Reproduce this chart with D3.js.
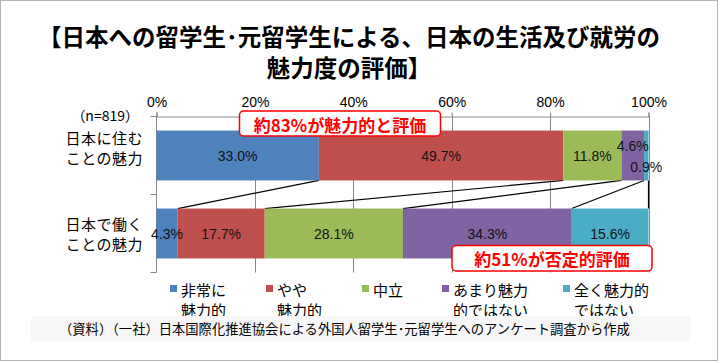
<!DOCTYPE html>
<html>
<head>
<meta charset="utf-8">
<script src="https://cdn.jsdelivr.net/npm/d3@7"></script>
<style>
  body { margin: 0; background: #fff; }
  svg text { font-family: "Noto Sans CJK JP", sans-serif; }
  .num { font-family: "Liberation Sans", Arial, sans-serif; }
</style>
</head>
<body>
<svg id="chart" width="720" height="363"></svg>
<script>
'use strict';

// categories (one bar each) and their two-line labels
const categories = ['live', 'work'];
const categoryLines = [['日本に住む', 'ことの魅力'], ['日本で働く', 'ことの魅力']];

// series, in stacking order
const seriesNames = ['非常に魅力的', 'やや魅力的', '中立', 'あまり魅力的ではない', '全く魅力的ではない'];
const legendLines = [['非常に', '魅力的'], ['やや', '魅力的'], ['中立'], ['あまり魅力', '的ではない'], ['全く魅力的', 'ではない']];
const seriesColors = ['#4f81bd', '#c0504d', '#9bbb59', '#8064a2', '#4bacc6'];

// values (%) per category, same order as seriesNames
const liveValues = [33.0, 49.7, 11.8, 4.6, 0.9];
const workValues = [4.3, 17.7, 28.1, 34.3, 15.6];

const xTicks = [0, 20, 40, 60, 80, 100];
const titleLines = ['【日本への留学生･元留学生による、日本の生活及び就労の', '魅力度の評価】'];
const callouts = ['約83%が魅力的と評価', '約51%が否定的評価'];
const sampleNote = '（n=819）';
const sourceNote = '（資料）（一社）日本国際化推進協会による外国人留学生･元留学生へのアンケート調査から作成';

const svg = d3.select('#chart');

// frame
svg.append('rect')
  .attr('x', 0.5).attr('y', 0.5)
  .attr('width', 717).attr('height', 360)
  .attr('fill', '#fff')
  .attr('stroke', '#b4b4b4');

// title
svg.selectAll('text.title')
  .data(titleLines)
  .enter()
  .append('text')
  .attr('class', 'title')
  .attr('x', 349)
  .attr('y', function(d, i) {
    return 36 + i * 31;
  })
  .attr('text-anchor', 'middle')
  .attr('dominant-baseline', 'central')
  .style('font-size', '23.5px')
  .style('font-weight', 'bold')
  .text(function(d) {
    return d;
  });

const x = d3.scaleLinear().domain([0, 100]).range([156.5, 648.5]);
const y = d3.scaleBand()
  .domain(categories)
  .range([116.5, 272.5])
  .paddingInner(0.36)
  .paddingOuter(0.18);

// stacked rows
const rows = [liveValues, workValues].map(function(vals, ci) {
  let acc = 0;
  return vals.map(function(v, si) {
    const seg = {cat: categories[ci], series: si, value: v, x0: acc, x1: acc + v};
    acc += v;
    return seg;
  });
});

// gridlines
const plot = svg.append('g');
plot.selectAll('line.grid')
  .data(xTicks.slice(1))
  .enter()
  .append('line')
  .attr('class', 'grid')
  .attr('x1', function(d) { return Math.round(x(d)) + 0.5; })
  .attr('x2', function(d) { return Math.round(x(d)) + 0.5; })
  .attr('y1', 116.5)
  .attr('y2', 272.5)
  .attr('stroke', '#868686');

// top axis
const xAxis = plot.append('g')
  .attr('transform', 'translate(0,116.5)')
  .call(d3.axisTop(x).tickValues(xTicks).tickSize(4).tickPadding(6)
    .tickFormat(function(d) { return d + '%'; }));
xAxis.select('.domain').attr('stroke', '#868686');
xAxis.selectAll('.tick line').attr('stroke', '#868686');
xAxis.selectAll('.tick text')
  .attr('class', 'num')
  .style('font-size', '14px')
  .attr('fill', '#000');

// left axis (ticks only at band boundaries)
plot.append('line')
  .attr('x1', 156.5).attr('x2', 156.5)
  .attr('y1', 116.5).attr('y2', 272.5)
  .attr('stroke', '#868686');
plot.selectAll('line.ytick')
  .data([116.5, 194.5, 272.5])
  .enter()
  .append('line')
  .attr('class', 'ytick')
  .attr('x1', 150.5).attr('x2', 156.5)
  .attr('y1', function(d) { return d; })
  .attr('y2', function(d) { return d; })
  .attr('stroke', '#868686');

// series lines between the two bars
const bounds = d3.range(seriesNames.length).map(function(si) {
  return {a: rows[0][si].x1, b: rows[1][si].x1};
});
plot.selectAll('line.series-line')
  .data(bounds)
  .enter()
  .append('line')
  .attr('class', 'series-line')
  .attr('x1', function(d) { return x(d.a); })
  .attr('y1', y(categories[0]) + y.bandwidth())
  .attr('x2', function(d) { return x(d.b); })
  .attr('y2', y(categories[1]))
  .attr('stroke', '#000')
  .attr('stroke-width', 1.2);

// bars
const segs = rows.flat();
plot.selectAll('rect.bar')
  .data(segs)
  .enter()
  .append('rect')
  .attr('class', 'bar')
  .attr('x', function(d) { return x(d.x0); })
  .attr('width', function(d) { return x(d.x1) - x(d.x0); })
  .attr('y', function(d) { return y(d.cat); })
  .attr('height', y.bandwidth())
  .attr('fill', function(d) { return seriesColors[d.series]; });

// data labels (small slivers on the first bar are nudged up / down)
const nudge = {'live-3': -10, 'live-4': 11};
plot.selectAll('text.val')
  .data(segs)
  .enter()
  .append('text')
  .attr('class', 'num val')
  .attr('x', function(d) { return x((d.x0 + d.x1) / 2); })
  .attr('y', function(d) {
    return y(d.cat) + y.bandwidth() / 2 + (nudge[d.cat + '-' + d.series] || 0);
  })
  .attr('text-anchor', 'middle')
  .attr('dominant-baseline', 'central')
  .style('font-size', '14px')
  .attr('fill', '#111')
  .text(function(d) { return d.value.toFixed(1) + '%'; });

// category labels
const catShift = [-8, 0];
categories.forEach(function(c, ci) {
  svg.selectAll('text.cat' + ci)
    .data(categoryLines[ci])
    .enter()
    .append('text')
    .attr('class', 'cat' + ci)
    .attr('x', 143)
    .attr('y', function(d, i) {
      return y(c) + y.bandwidth() / 2 + catShift[ci] - 10 + i * 20;
    })
    .attr('text-anchor', 'end')
    .attr('dominant-baseline', 'central')
    .style('font-size', '15px')
    .style('letter-spacing', '0.5px')
    .text(function(d) { return d; });
});

svg.append('text')
  .attr('x', 139).attr('y', 115)
  .attr('text-anchor', 'end')
  .attr('dominant-baseline', 'central')
  .style('font-size', '14px')
  .text(sampleNote);

// callouts
const calloutBoxes = [
  {x: 239.5, y: 111, w: 201, h: 25},
  {x: 452, y: 245.5, w: 200, h: 25.5}
];
calloutBoxes.forEach(function(b, i) {
  const g = svg.append('g');
  g.append('rect')
    .attr('x', b.x).attr('y', b.y)
    .attr('width', b.w).attr('height', b.h)
    .attr('rx', 4)
    .attr('fill', '#fff')
    .attr('stroke', '#ff0000')
    .attr('stroke-width', 1.5);
  g.append('text')
    .attr('x', b.x + b.w / 2)
    .attr('y', b.y + b.h / 2 + 0.5)
    .attr('text-anchor', 'middle')
    .attr('dominant-baseline', 'central')
    .style('font-size', '17px')
    .style('font-weight', 'bold')
    .attr('fill', '#ff0000')
    .text(callouts[i]);
});

// legend
const legendX = [170, 266, 362, 442, 563];
const legend = svg.append('g');
seriesNames.forEach(function(name, si) {
  legend.append('rect')
    .attr('x', legendX[si]).attr('y', 285)
    .attr('width', 7).attr('height', 7)
    .attr('fill', seriesColors[si]);
  legend.selectAll('text.leg' + si)
    .data(legendLines[si])
    .enter()
    .append('text')
    .attr('class', 'leg' + si)
    .attr('x', legendX[si] + 11)
    .attr('y', function(d, i) { return 289 + i * 20; })
    .attr('dominant-baseline', 'central')
    .style('font-size', '15px')
    .text(function(d) { return d; });
});

// source note
svg.append('rect')
  .attr('x', 31).attr('y', 316)
  .attr('width', 659).attr('height', 26)
  .attr('fill', '#f7f7f7');
svg.append('text')
  .attr('x', 59).attr('y', 328)
  .attr('dominant-baseline', 'central')
  .style('font-size', '13.3px')
  .text(sourceNote);
</script>
</body>
</html>
